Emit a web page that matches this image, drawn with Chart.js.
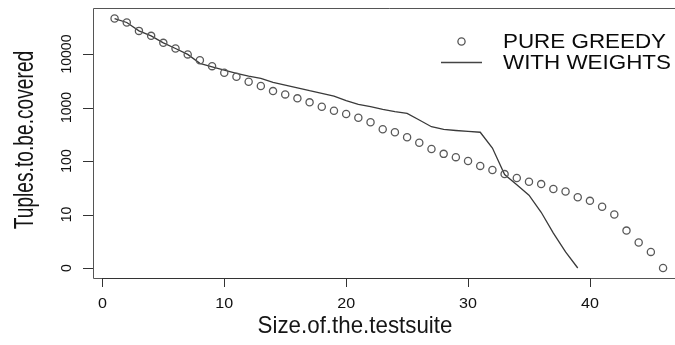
<!DOCTYPE html>
<html>
<head>
<meta charset="utf-8">
<script src="https://cdn.jsdelivr.net/npm/chart.js@4/dist/chart.umd.min.js"></script>
<style>
html,body{margin:0;padding:0;background:#fff;overflow:hidden;width:675px;height:345px;}
#wrap{position:absolute;left:0;top:0;width:700px;height:345px;}
</style>
</head>
<body>
<div id="wrap"><canvas id="c" width="700" height="345"></canvas></div>
<script>
// ---- data ----
const sizes = [1,2,3,4,5,6,7,8,9,10,11,12,13,14,15,16,17,18,19,20,21,22,23,24,25,26,27,28,29,30,31,32,33,34,35,36,37,38,39,40,41,42,43,44,45,46];
const pureGreedy = [46100,38900,27100,21900,16200,12700,9840,7690,5940,4460,3760,3030,2520,2030,1760,1485,1250,1035,871,756,645,530,392,344,278,220,168,136,118,100,81,68,57,48,41,37,30,27,21,18,14,10,5,3,2,0];
const weightSizes = [1,2,3,4,5,6,7,8,9,10,11,12,13,14,15,16,17,18,19,20,21,22,23,24,25,26,27,28,29,30,31,32,33,34,35,36,37,38,39];
const withWeights = [46100,38900,27100,21900,16200,12700,9840,6700,5770,5010,4350,3870,3510,2950,2630,2340,2060,1840,1640,1340,1150,1035,925,842,779,585,438,392,372,357,345,175,56,36,23,11,4.5,2,0];
const xTickValues = [0,10,20,30,40];
const yTickValues = [0,1,2,3,4];
const yTickLabels = ['0','10','100','1000','10000'];
const seriesNames = ['PURE GREEDY','WITH WEIGHTS'];
const xTitle = 'Size.of.the.testsuite';
const yTitle = 'Tuples.to.be.covered';

const toLog = v => Math.log10(Math.max(v,1));
const pts = (xs, ys) => xs.map((x,i)=>({x:x, y:toLog(ys[i])}));

const FONT = '"Liberation Sans", Arial, Helvetica, sans-serif';
const HS = 1.15;

const decor = {
  id:'decor',
  afterDraw(chart){
    const ctx = chart.ctx, a = chart.chartArea;
    const xs = chart.scales.x, ys = chart.scales.y;
    ctx.save();
    // box
    ctx.strokeStyle = '#555'; ctx.lineWidth = 1;
    ctx.beginPath();
    ctx.moveTo(a.right, Math.round(a.top)+0.5);
    ctx.lineTo(Math.round(a.left)+0.5, Math.round(a.top)+0.5);
    ctx.lineTo(Math.round(a.left)+0.5, Math.round(a.bottom)+0.5);
    ctx.lineTo(a.right, Math.round(a.bottom)+0.5);
    ctx.lineTo(a.right, Math.round(a.top)+0.5);
    ctx.stroke();
    // x ticks
    ctx.strokeStyle = '#333';
    ctx.beginPath();
    const bx0 = Math.round(xs.getPixelForValue(xTickValues[0]))+0.5;
    const bx1 = Math.round(xs.getPixelForValue(xTickValues[xTickValues.length-1]))+0.5;
    ctx.moveTo(bx0, Math.round(a.bottom)+0.5); ctx.lineTo(bx1, Math.round(a.bottom)+0.5);
    xTickValues.forEach(v=>{
      const px = Math.round(xs.getPixelForValue(v))+0.5;
      ctx.moveTo(px, a.bottom); ctx.lineTo(px, a.bottom+9);
    });
    // y ticks
    yTickValues.forEach(v=>{
      const py = Math.round(ys.getPixelForValue(v))+0.5;
      ctx.moveTo(a.left, py); ctx.lineTo(a.left-10, py);
    });
    ctx.stroke();
    ctx.fillStyle = '#111';
    // x tick labels
    ctx.font = '14px ' + FONT;
    ctx.textAlign = 'center'; ctx.textBaseline = 'middle';
    xTickValues.forEach(v=>{
      const px = xs.getPixelForValue(v);
      ctx.save(); ctx.translate(px, 304); ctx.scale(HS,1); ctx.fillText(String(v),0,0); ctx.restore();
    });
    // y tick labels (rotated)
    yTickValues.forEach((v,i)=>{
      const py = ys.getPixelForValue(v);
      ctx.save(); ctx.translate(67, py); ctx.rotate(-Math.PI/2); ctx.scale(1,1.1); ctx.fillText(yTickLabels[i],0,0); ctx.restore();
    });
    // axis titles (condensed)
    ctx.fillStyle = '#151515';
    ctx.font = '24px ' + FONT;
    ctx.save(); ctx.translate(355, 326); ctx.scale(0.93,1.02); ctx.fillText(xTitle,0,0); ctx.restore();
    ctx.save(); ctx.translate(26, 140); ctx.rotate(-Math.PI/2); ctx.scale(0.80,1.12); ctx.fillText(yTitle,0,0); ctx.restore();
    // legend
    ctx.strokeStyle = '#555'; ctx.lineWidth = 1.3;
    ctx.beginPath(); ctx.arc(461.5, 41.5, 3.6, 0, Math.PI*2); ctx.stroke();
    ctx.strokeStyle = '#444'; ctx.lineWidth = 1.5;
    ctx.beginPath(); ctx.moveTo(441, 62.5); ctx.lineTo(482, 62.5); ctx.stroke();
    ctx.fillStyle = '#0a0a0a';
    ctx.font = '20px ' + FONT; ctx.textAlign = 'left';
    ctx.save(); ctx.translate(503, 42); ctx.scale(1.12,1); ctx.fillText(seriesNames[0],0,0); ctx.restore();
    ctx.save(); ctx.translate(503, 63); ctx.scale(1.12,1); ctx.fillText(seriesNames[1],0,0); ctx.restore();
    ctx.restore();
  }
};

new Chart(document.getElementById('c'), {
  type:'scatter',
  data:{
    datasets:[
      {label:seriesNames[0], data:pts(sizes,pureGreedy), showLine:false,
       pointStyle:'circle', pointRadius:3.6, pointHoverRadius:3.6, pointBorderWidth:1.3,
       pointBorderColor:'#5a5a5a', pointBackgroundColor:'rgba(0,0,0,0)'},
      {label:seriesNames[1], data:pts(weightSizes,withWeights), showLine:true,
       borderColor:'#3a3a3a', borderWidth:1.3, pointRadius:0, tension:0, fill:false}
    ]
  },
  options:{
    responsive:false, animation:false, devicePixelRatio:1,
    layout:{padding:{left:93, top:7.5, right:15, bottom:67}},
    plugins:{legend:{display:false}, tooltip:{enabled:false}},
    scales:{
      x:{type:'linear', display:false, min:-0.77, max:47.8},
      y:{type:'linear', display:false, min:-0.187, max:4.87}
    }
  },
  plugins:[decor]
});
</script>
</body>
</html>
